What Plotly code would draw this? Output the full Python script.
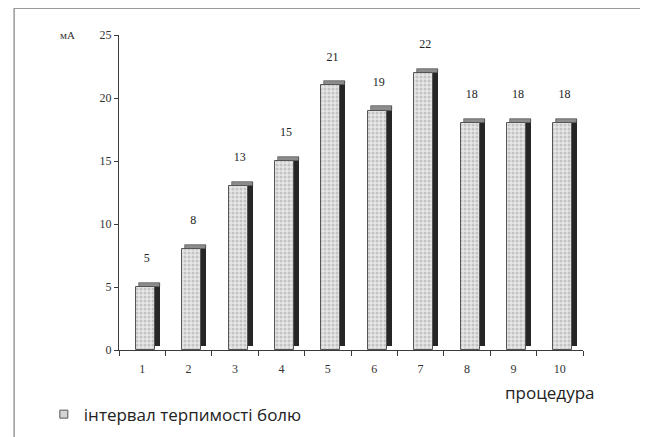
import plotly.graph_objects as go

# data
procedures = ["1", "2", "3", "4", "5", "6", "7", "8", "9", "10"]
pain_interval = [5, 8, 13, 15, 21, 19, 22, 18, 18, 18]
y_ticks = [0, 5, 10, 15, 20, 25]
series_name = "інтервал терпимості болю"

SERIF = "Liberation Serif"
SANS = "Open Sans"
AXIS_COLOR = "#3a3a3a"
FRONT_COLOR = "#e6e6e6"
DOT_COLOR = "#a0a0a0"
SIDE_COLOR = "#262626"
TOP_COLOR = "#8c8c8c"

# bar geometry, in category units / value units
FRONT_OFFSET = -0.14
FRONT_WIDTH = 0.41
DEPTH_X = 0.11
DEPTH_Y = 0.33

xs = list(range(1, len(procedures) + 1))

fig = go.Figure()

# dark right-hand side of the pseudo-3D bars
fig.add_trace(go.Bar(
    x=xs,
    y=pain_interval,
    base=[DEPTH_Y] * len(xs),
    offset=FRONT_OFFSET + FRONT_WIDTH,
    width=DEPTH_X,
    marker=dict(color=SIDE_COLOR, line=dict(width=0)),
    showlegend=False,
    hoverinfo="skip",
))

# grey top face
fig.add_trace(go.Bar(
    x=xs,
    y=[DEPTH_Y] * len(xs),
    base=pain_interval,
    offset=FRONT_OFFSET + DEPTH_X * 0.6,
    width=FRONT_WIDTH + DEPTH_X * 0.4,
    marker=dict(color=TOP_COLOR, line=dict(width=0.6, color="#444")),
    showlegend=False,
    hoverinfo="skip",
))

# front face with dotted pattern
fig.add_trace(go.Bar(
    x=xs,
    y=pain_interval,
    offset=FRONT_OFFSET,
    width=FRONT_WIDTH,
    name=series_name,
    legendgroup="main",
    showlegend=False,
    marker=dict(
        color=FRONT_COLOR,
        line=dict(width=1, color="#555"),
        pattern=dict(shape=".", fgcolor=DOT_COLOR, bgcolor=FRONT_COLOR, size=4, solidity=0.45),
    ),
    hovertemplate="%{x}: %{y}<extra></extra>",
))

# small square legend swatch, as in the original
fig.add_trace(go.Scatter(
    x=[None],
    y=[None],
    mode="markers",
    name=series_name,
    legendgroup="main",
    marker=dict(symbol="square", size=8, color="#d4d4d4", line=dict(width=1, color="#555")),
))

# value labels above the bars
fig.add_trace(go.Scatter(
    x=[x + 0.1 for x in xs],
    y=[v + 2.2 for v in pain_interval],
    mode="text",
    text=[str(v) for v in pain_interval],
    textfont=dict(family=SERIF, size=12, color="#222"),
    showlegend=False,
    hoverinfo="skip",
    cliponaxis=False,
))

fig.update_layout(
    width=648,
    height=437,
    margin=dict(l=111, r=73, t=27, b=93),
    paper_bgcolor="white",
    plot_bgcolor="white",
    barmode="overlay",
    bargap=0,
    showlegend=True,
    legend=dict(
        x=-0.162,
        y=-0.205,
        xanchor="left",
        yanchor="middle",
        font=dict(family=SANS, size=17, color="#222"),
        bgcolor="rgba(0,0,0,0)",
        itemwidth=30,
    ),
    font=dict(family=SERIF, size=11, color="#333"),
)

fig.update_xaxes(
    range=[0.5, 10.5],
    tickvals=xs,
    ticktext=procedures,
    ticks="",
    ticklabelstandoff=8,
    showline=True,
    linecolor=AXIS_COLOR,
    linewidth=1,
    showgrid=False,
    zeroline=False,
    tickfont=dict(family=SERIF, size=12, color="#333"),
    minor=dict(tick0=0.5, dtick=1, ticks="outside", ticklen=5, tickcolor=AXIS_COLOR, showgrid=False),
)

fig.update_yaxes(
    range=[0, 25],
    tickvals=y_ticks,
    ticks="outside",
    ticklen=4,
    tickcolor=AXIS_COLOR,
    showline=True,
    linecolor=AXIS_COLOR,
    linewidth=1,
    showgrid=False,
    zeroline=False,
    tickfont=dict(family=SERIF, size=12, color="#333"),
)

# outer frame
fig.add_shape(
    type="rect", xref="paper", yref="paper",
    x0=-0.226, x1=1.136, y0=-0.284, y1=1.085,
    line=dict(color="#9a9a9a", width=1.5),
)

fig.add_annotation(
    text="мА", xref="paper", yref="paper", x=-0.09, y=1.0,
    xanchor="right", yanchor="middle", showarrow=False,
    font=dict(family=SERIF, size=11, color="#333"),
)
fig.add_annotation(
    text="процедура", xref="paper", yref="paper", x=0.929, y=-0.136,
    xanchor="center", yanchor="middle", showarrow=False,
    font=dict(family=SANS, size=17, color="#222"),
)

fig.write_html("out.html")
